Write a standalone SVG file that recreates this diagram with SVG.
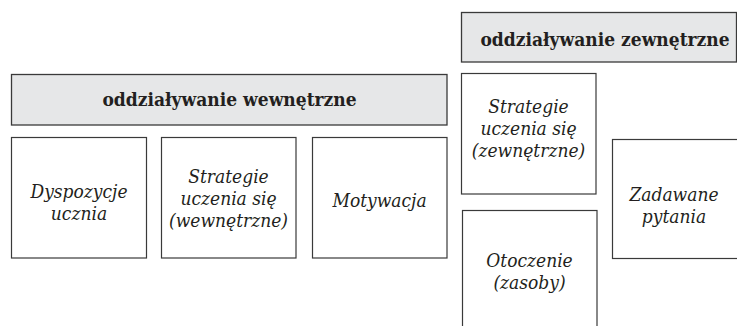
<svg xmlns="http://www.w3.org/2000/svg" width="737" height="326" viewBox="0 0 737 326">
<style>
.hdr{fill:#e6e7e8;stroke:#3a3a3a;stroke-width:1.3}
.box{fill:#ffffff;stroke:#3a3a3a;stroke-width:1.2}
.ht{font-family:'DejaVu Serif Condensed','DejaVu Serif',serif;font-weight:bold;font-size:19px;fill:#231f20;text-anchor:middle}
.bt{font-family:'DejaVu Serif Condensed','DejaVu Serif',serif;font-style:italic;font-size:19px;fill:#231f20;text-anchor:middle}
</style>
<rect width="737" height="326" fill="#ffffff"/>
<g id="hdr-wewn">
<rect class="hdr" x="11.5" y="74.5" width="435.5" height="50.5"/>
<text class="ht" x="229.5" y="105.5">oddziaływanie wewnętrzne</text>
</g>
<g id="hdr-zewn">
<rect class="hdr" x="461.5" y="12.5" width="275" height="49.5"/>
<text class="ht" x="605" y="45.5">oddziaływanie zewnętrzne</text>
</g>
<g id="dyspozycje">
<rect class="box" x="11.5" y="137.5" width="135" height="120.5"/>
<text class="bt" x="79" y="198">Dyspozycje</text>
<text class="bt" x="79" y="220">ucznia</text>
</g>
<g id="strategie-wewn">
<rect class="box" x="161.5" y="137.5" width="134.5" height="120.5"/>
<text class="bt" x="228.5" y="183">Strategie</text>
<text class="bt" x="228.5" y="205">uczenia się</text>
<text class="bt" x="228.5" y="227">(wewnętrzne)</text>
</g>
<g id="motywacja">
<rect class="box" x="312.5" y="137.5" width="134.5" height="120.5"/>
<text class="bt" x="379.5" y="207">Motywacja</text>
</g>
<g id="strategie-zewn">
<rect class="box" x="461.5" y="73.5" width="134.5" height="120.5"/>
<text class="bt" x="528.5" y="113">Strategie</text>
<text class="bt" x="528.5" y="135">uczenia się</text>
<text class="bt" x="528.5" y="157">(zewnętrzne)</text>
</g>
<g id="otoczenie">
<rect class="box" x="462.5" y="210.5" width="134.5" height="130"/>
<text class="bt" x="529.5" y="267">Otoczenie</text>
<text class="bt" x="529.5" y="289">(zasoby)</text>
</g>
<g id="zadawane">
<rect class="box" x="612.5" y="139.5" width="140" height="119"/>
<text class="bt" x="674" y="201">Zadawane</text>
<text class="bt" x="674" y="223">pytania</text>
</g>
<g id="connectors"></g>
</svg>
